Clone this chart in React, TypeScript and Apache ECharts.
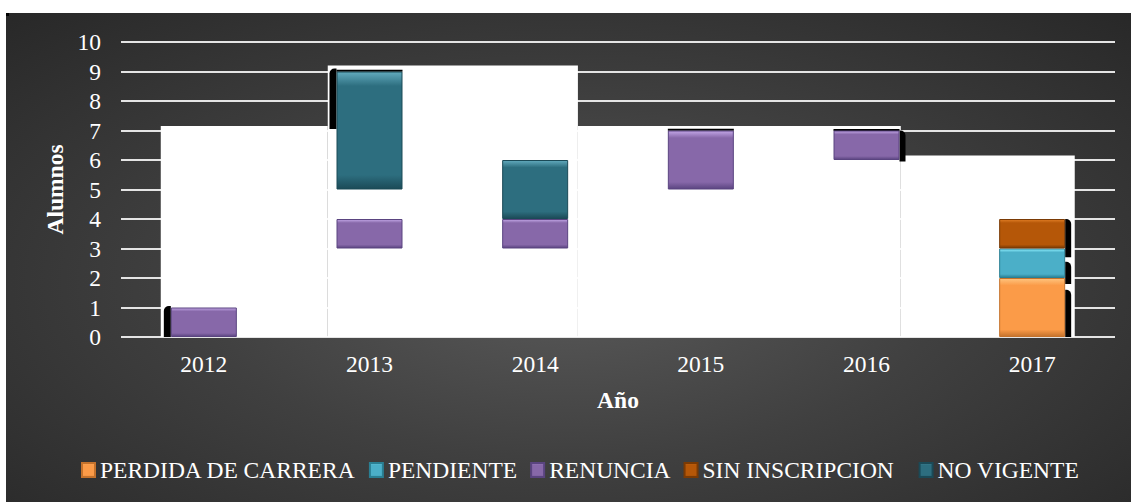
import React, { useEffect, useRef } from "react";
import * as echarts from "echarts";

const years = ["2012", "2013", "2014", "2015", "2016", "2017"];
const yTicks = [0, 10, 1]; // min, max, interval

// stacked segments (offset series is transparent)
const offsetBase = [0, 3, 3, 5, 6, 0];
const perdida = [0, 0, 0, 0, 0, 2];
const pendiente = [0, 0, 0, 0, 0, 1];
const renuncia = [1, 1, 1, 2, 1, 0];
const sinInscripcion = [0, 0, 0, 0, 0, 1];
const gapSeg = [0, 1, 0, 0, 0, 0];
const noVigente = [0, 4, 2, 0, 0, 0];

// white back panels (category units from first category centre, value top)
const panelStart = [-0.26, 0.748, 2.258, 4.207];
const panelEnd = [0.748, 2.258, 4.207, 5.257];
const panelTop = [7.15, 9.2, 7.15, 6.15];

// black shadow artefacts: category, side, low, high
const shadowCat = [0, 1, 1, 3, 4, 4, 5, 5, 5];
const shadowSide = ["left", "left", "top", "top", "top", "right", "right", "right", "right"];
const shadowLow = [0, 7.05, 9.0, 7.0, 7.0, 5.95, 0, 1.8, 2.7];
const shadowHigh = [1.05, 9.1, 9.06, 7.06, 7.05, 7.0, 1.6, 2.55, 4.0];

const FONT = "Liberation Serif";

function bevel(light: string, base: string, dark: string) {
  return {
    type: "linear",
    x: 0,
    y: 0,
    x2: 0,
    y2: 1,
    colorStops: [
      { offset: 0, color: light },
      { offset: 0.12, color: base },
      { offset: 0.88, color: base },
      { offset: 1, color: dark },
    ],
  };
}

export default function App() {
  const ref = useRef<HTMLDivElement>(null);
  useEffect(() => {
    if (!ref.current) return;
    const chart = echarts.init(ref.current, null, { renderer: "svg" });
    const BAR_W = 66;
    const nz = (arr: number[]) => arr.map((v) => (v === 0 ? null : v));
    const barSeries = (name: string, data: number[], light: string, base: string, dark: string) => ({
      name,
      type: "bar",
      stack: "total",
      data: nz(data),
      barWidth: BAR_W,
      z: 5,
      itemStyle: {
        color: bevel(light, base, dark),
        borderColor: dark,
        borderWidth: 1,
      },
    });
    chart.setOption({
      animation: false,
      grid: { left: 115, right: 16, top: 29, bottom: 165 },
      graphic: [{ type: "rect", left: 0, top: 0, shape: { width: 3, height: 3 }, style: { fill: "#000" } }],
      legend: {
        data: ["PERDIDA DE CARRERA", "PENDIENTE", "RENUNCIA", "SIN INSCRIPCION", "NO VIGENTE"],
        top: 440,
        left: 70,
        icon: "rect",
        itemWidth: 13,
        itemHeight: 14,
        itemGap: 13,
        formatter: (n: string) => (n === "SIN INSCRIPCION" ? n + "\u00a0\u00a0" : n),
        textStyle: { color: "#ffffff", fontFamily: FONT, fontSize: 23.5 },
      },
      xAxis: {
        type: "category",
        data: years,
        name: "Año",
        nameLocation: "middle",
        nameGap: 51,
        nameTextStyle: { color: "#ffffff", fontFamily: FONT, fontSize: 23.5, fontWeight: "bold" },
        axisLine: { show: false },
        axisTick: { show: false },
        axisLabel: { color: "#ffffff", fontFamily: FONT, fontSize: 23.5, margin: 15 },
      },
      yAxis: {
        type: "value",
        min: yTicks[0],
        max: yTicks[1],
        interval: yTicks[2],
        name: "Alumnos",
        nameLocation: "middle",
        nameGap: 54,
        nameRotate: 90,
        nameTextStyle: { color: "#ffffff", fontFamily: FONT, fontSize: 23.5, fontWeight: "bold" },
        axisLine: { show: false },
        axisTick: { show: false },
        axisLabel: { color: "#ffffff", fontFamily: FONT, fontSize: 23.5, margin: 20 },
        splitLine: { lineStyle: { color: "#e4e4e4", width: 2 } },
      },
      series: [
        {
          name: "panels",
          type: "custom",
          z: 1,
          silent: true,
          data: panelTop.map((v) => [0, v]),
          renderItem: (params: any, api: any) => {
            const i = params.dataIndex;
            const bw = api.size([1, 0])[0];
            const c0 = api.coord([0, 0]);
            const x0 = c0[0] + panelStart[i] * bw;
            const x1 = c0[0] + panelEnd[i] * bw;
            const yT = api.coord([0, api.value(1)])[1];
            return {
              type: "rect",
              shape: { x: x0, y: yT, width: x1 - x0, height: c0[1] - yT },
              style: { fill: "#ffffff" },
            };
          },
        },
        {
          name: "shadows",
          type: "custom",
          z: 3,
          silent: true,
          data: shadowCat.map((c, i) => [c, shadowLow[i], shadowHigh[i]]),
          renderItem: (params: any, api: any) => {
            const i = params.dataIndex;
            const cx = api.coord([api.value(0), 0])[0];
            const yLo = api.coord([0, api.value(1)])[1];
            const yHi = api.coord([0, api.value(2)])[1];
            const side = shadowSide[i];
            let x = cx - BAR_W / 2 - 7;
            let w = 7;
            let r: number[] = [5, 0, 0, 0];
            if (side === "right") {
              x = cx + BAR_W / 2;
              w = 6;
              r = [0, 5, 0, 0];
            } else if (side === "top") {
              x = cx - BAR_W / 2;
              w = BAR_W;
              r = [0, 0, 0, 0];
            }
            return {
              type: "rect",
              shape: { x, y: yHi, width: w, height: Math.max(2, yLo - yHi), r },
              style: { fill: "#000000" },
            };
          },
        },
        {
          name: "offset",
          type: "bar",
          stack: "total",
          data: nz(offsetBase),
          barWidth: BAR_W,
          itemStyle: { color: "rgba(0,0,0,0)" },
          silent: true,
        },
        barSeries("PERDIDA DE CARRERA", perdida, "#ffc47e", "#fb9b48", "#c4722c"),
        barSeries("PENDIENTE", pendiente, "#8ff0ff", "#4bafc8", "#2a7f93"),
        barSeries("RENUNCIA", renuncia, "#c2a6e6", "#8768a9", "#5a4480"),
        barSeries("SIN INSCRIPCION", sinInscripcion, "#e07d24", "#b55708", "#7a3a04"),
        {
          name: "gap",
          type: "bar",
          stack: "total",
          data: nz(gapSeg),
          barWidth: BAR_W,
          itemStyle: { color: "rgba(0,0,0,0)" },
          silent: true,
        },
        barSeries("NO VIGENTE", noVigente, "#62aabd", "#2d6e7f", "#1b4a57"),
      ],
    });
    return () => chart.dispose();
  }, []);
  return (
    <div
      ref={ref}
      style={{
        position: "absolute",
        left: 6,
        top: 13,
        width: 1125,
        height: 489,
        background: "radial-gradient(ellipse 75% 80% at 50% 55%, #5a5a5a 0%, #404040 45%, #262626 100%)",
      }}
    />
  );
}
